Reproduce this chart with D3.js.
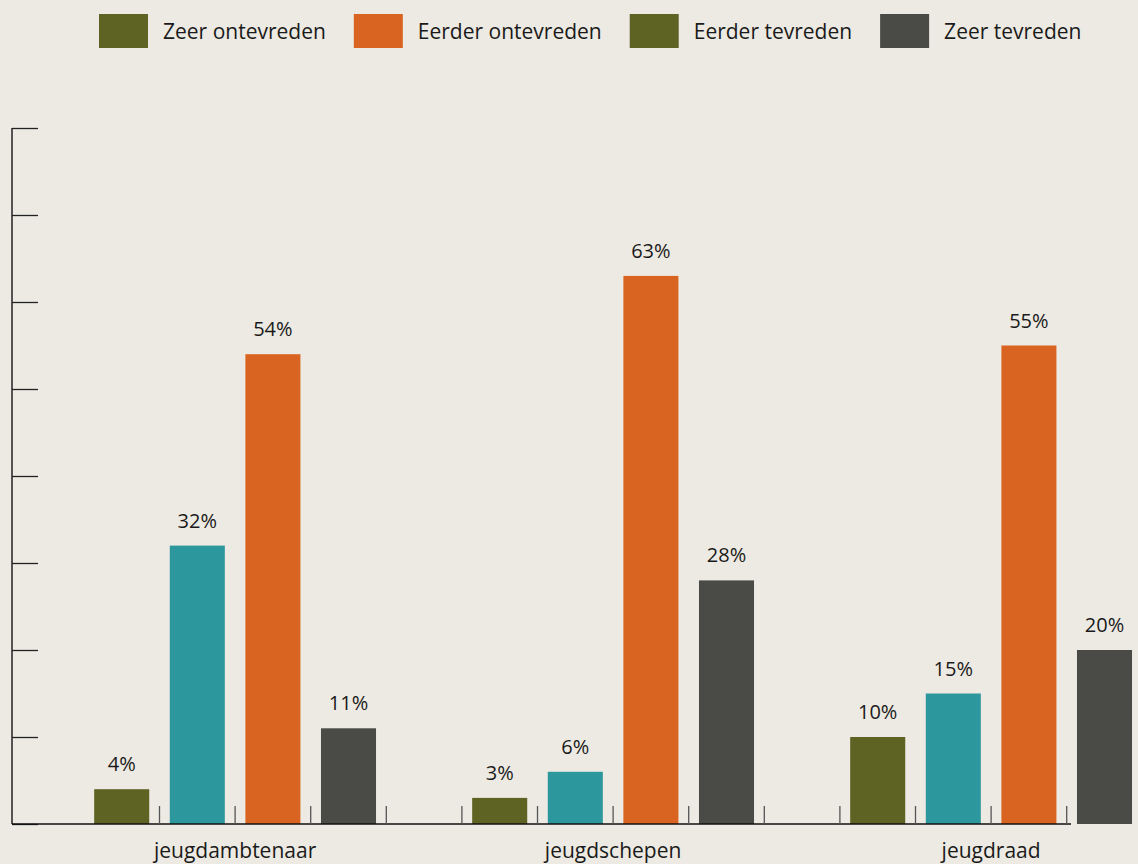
<!DOCTYPE html>
<html>
<head>
<meta charset="utf-8">
<script src="https://cdn.jsdelivr.net/npm/d3@7"></script>
<style>
  html, body { margin: 0; padding: 0; background: #edeae3; }
  svg { display: block; }
  .legend text { font-family: "Open Sans", "Noto Sans", sans-serif; font-size: 21px; fill: #1a1a1a; }
  .value { font-family: "Open Sans", "Noto Sans", sans-serif; font-size: 20px; fill: #1a1a1a; text-anchor: middle; }
  .cat { font-family: "Open Sans", "Noto Sans", sans-serif; font-size: 21px; fill: #1a1a1a; text-anchor: middle; }
</style>
</head>
<body>
<svg id="chart" width="1138" height="864"></svg>
<script>
// categories and series (bars are drawn in this order inside each group)
const categories = ["jeugdambtenaar", "jeugdschepen", "jeugdraad"];
const barSeries = ["Zeer ontevreden", "Eerder tevreden", "Eerder ontevreden", "Zeer tevreden"];
const zeerOntevreden = [4, 3, 10];
const eerderTevreden = [32, 6, 15];
const eerderOntevreden = [54, 63, 55];
const zeerTevreden = [11, 28, 20];
const barColors = ["#5e6223", "#2c979c", "#d96421", "#4a4a47"];

// legend as it appears in the picture
const legendLabels = ["Zeer ontevreden", "Eerder ontevreden", "Eerder tevreden", "Zeer tevreden"];
const legendColors = ["#5e6223", "#d96421", "#5e6223", "#4a4a47"];

const yTicks = [0, 10, 20, 30, 40, 50, 60, 70, 80];

const svg = d3.select("#chart");
const axisX = 12;
const baseY = 824;

const y = d3.scaleLinear().domain([0, 80]).range([baseY, 128]);

// 15 equal slots, one empty slot between groups, the last group runs off the right edge
const slotCount = 15;
const slots = d3.scaleBand()
  .domain(d3.range(slotCount))
  .range([8.3, 8.3 + 75.6 * slotCount])
  .paddingInner(0.272)
  .paddingOuter(0.136);
const step = slots.step();
const slotEdge = (n) => 8.3 + step * n;

const allSeries = [zeerOntevreden, eerderTevreden, eerderOntevreden, zeerTevreden];
const bars = [];
categories.forEach((cat, g) => {
  allSeries.forEach((vals, s) => {
    bars.push({ cat, series: barSeries[s], value: vals[g], slot: 1 + g * 5 + s, color: barColors[s] });
  });
});

// y axis, ticks pointing inward
svg.append("g")
  .attr("transform", `translate(${axisX},0)`)
  .call(d3.axisRight(y).tickValues(yTicks).tickSize(26).tickFormat(""))
  .call((g) => g.select(".domain").remove())
  .call((g) => g.selectAll(".tick line").attr("stroke", "#222").attr("stroke-width", 1.3));
svg.append("line")
  .attr("x1", axisX).attr("x2", axisX)
  .attr("y1", y(80)).attr("y2", baseY)
  .attr("stroke", "#222").attr("stroke-width", 1.5);

// bars
svg.append("g")
  .selectAll("rect")
  .data(bars)
  .join("rect")
  .attr("x", (d) => slots(d.slot))
  .attr("width", slots.bandwidth())
  .attr("y", (d) => y(d.value))
  .attr("height", (d) => baseY - y(d.value))
  .attr("fill", (d) => d.color);

// baseline and small slot ticks
svg.append("line")
  .attr("x1", axisX).attr("x2", 1071)
  .attr("y1", baseY).attr("y2", baseY)
  .attr("stroke", "#111").attr("stroke-width", 1.5);
svg.append("g")
  .selectAll("line")
  .data(d3.range(2, slotCount))
  .join("line")
  .attr("x1", (n) => slotEdge(n)).attr("x2", (n) => slotEdge(n))
  .attr("y1", baseY - 18).attr("y2", baseY)
  .attr("stroke", "#555").attr("stroke-width", 1.3);

// value labels
svg.append("g")
  .selectAll("text")
  .data(bars)
  .join("text")
  .attr("class", "value")
  .attr("x", (d) => slots(d.slot) + slots.bandwidth() / 2)
  .attr("y", (d) => y(d.value) - 18)
  .text((d) => d.value + "%");

// category labels
svg.append("g")
  .selectAll("text")
  .data(categories)
  .join("text")
  .attr("class", "cat")
  .attr("x", (d, i) => slotEdge(3 + i * 5))
  .attr("y", 858)
  .text((d) => d);

// legend
const legend = svg.append("g").attr("class", "legend");
let lx = 99;
legendLabels.forEach((label, i) => {
  const item = legend.append("g").attr("transform", `translate(${lx},14)`);
  item.append("rect").attr("width", 49).attr("height", 34).attr("fill", legendColors[i]);
  const t = item.append("text").attr("x", 64).attr("y", 25).text(label);
  lx += 64 + t.node().getComputedTextLength() + 28;
});
</script>
</body>
</html>
